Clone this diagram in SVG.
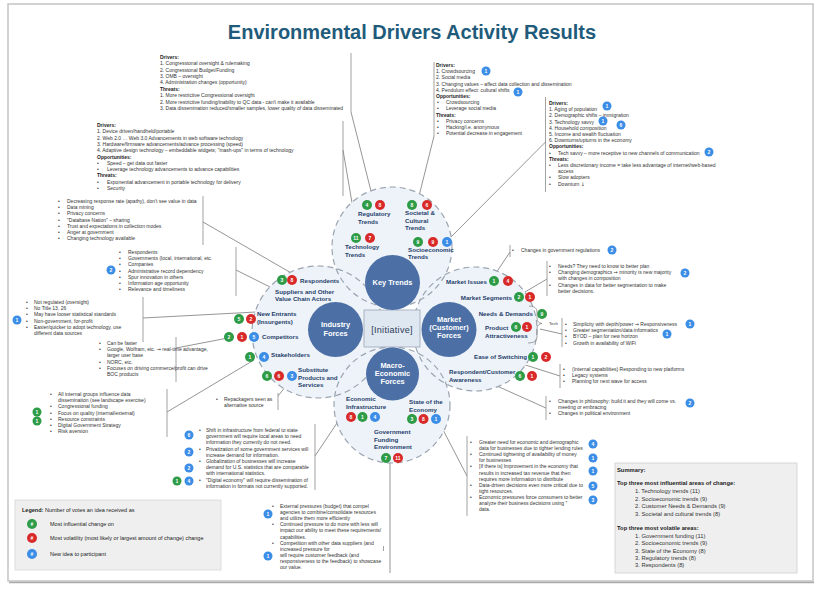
<svg xmlns="http://www.w3.org/2000/svg" width="824" height="598" viewBox="0 0 824 598">
<style>
text{font-family:"Liberation Sans","DejaVu Sans",Arial,sans-serif}
.ar{font-family:"DejaVu Sans",sans-serif}
.t{font-size:5px;fill:#333}
.h{font-size:5px;fill:#222;font-weight:bold}
.lb{font-size:6.2px;font-weight:bold;fill:#26416b}
.ct{font-size:7.4px;font-weight:bold;fill:#fff;text-anchor:middle}
.bn{font-size:5px;font-weight:bold;fill:#fff;text-anchor:middle}
.g{fill:#2e9b46}.r{fill:#d92a2a}.b{fill:#3b8de6}
.df{fill:#eef3f9;stroke:none}
.ds{fill:none;stroke:#9aa4b0;stroke-width:1.2;stroke-dasharray:6 4}
.fc{fill:#4c70a6}
.ln{stroke:#7a7a7a;stroke-width:0.8;fill:none}
.bar{stroke:#8a8a8a;stroke-width:0.8;fill:none}
.sm{font-size:5.8px;fill:#333}
.smb{font-size:5.8px;fill:#222;font-weight:bold}
.lg{font-size:5.5px;fill:#222}
</style>
<rect x="0" y="0" width="824" height="598" fill="#fff"/>
<rect x="8" y="4" width="805" height="577" fill="#fff" stroke="#c4c4c4" stroke-width="1.5"/>
<line x1="9" y1="582.5" x2="814" y2="582.5" stroke="#aaa" stroke-width="1.5"/>
<text x="412" y="39" text-anchor="middle" style="font-size:20px;font-weight:bold;fill:#1f5b7a">Environmental Drivers Activity Results</text>

<g id="connectors">
<line class="ln" x1="351" y1="112" x2="373" y2="199"/>
<line class="ln" x1="343" y1="150" x2="357" y2="232"/>
<line class="ln" x1="434" y1="136" x2="418" y2="200"/>
<line class="ln" x1="545.5" y1="142" x2="451" y2="237"/>
<line class="ln" x1="203" y1="222" x2="293" y2="274"/>
<line class="ln" x1="236" y1="270" x2="272" y2="288"/>
<line class="ln" x1="143" y1="318" x2="256" y2="312"/>
<line class="ln" x1="176" y1="348" x2="228" y2="338"/>
<line class="ln" x1="167" y1="412" x2="254" y2="360"/>
<line class="ln" x1="278" y1="396" x2="290" y2="381"/>
<line class="ln" x1="315" y1="456" x2="345" y2="411"/>
<line class="ln" x1="390" y1="463" x2="390" y2="573"/>
<line class="ln" x1="440" y1="424" x2="467" y2="476"/>
<line class="ln" x1="510" y1="252" x2="494" y2="276"/>
<line class="ln" x1="547" y1="279" x2="525" y2="292"/>
<line class="ln" x1="540" y1="329" x2="562" y2="334"/>
<line class="ln" x1="516" y1="362" x2="560" y2="376"/>
<line class="ln" x1="488" y1="382" x2="546" y2="408"/>
</g>

<g id="forces">
<circle class="df" cx="392" cy="247" r="60"/>
<circle class="df" cx="318" cy="332" r="66"/>
<circle class="df" cx="475" cy="329" r="62"/>
<circle class="df" cx="392" cy="405" r="58"/>
<circle class="ds" cx="392" cy="247" r="60"/>
<circle class="ds" cx="318" cy="332" r="66"/>
<circle class="ds" cx="475" cy="329" r="62"/>
<circle class="ds" cx="392" cy="405" r="58"/>
</g>

<g id="initiative">
<rect x="364" y="310" width="56" height="37" fill="#dfe7f1" stroke="#9aa6b4" stroke-width="0.8"/>
<text x="392" y="333" text-anchor="middle" style="font-size:9px;fill:#2b3b55;letter-spacing:0.3px">[Initiative]</text>
</g>

<g id="key-trends">
<circle class="fc" cx="392.5" cy="282.5" r="27.5"/>
<text class="ct" x="392.5" y="285">Key Trends</text>
<circle class="g" cx="367" cy="205" r="5"/><text class="bn" x="367" y="206.9">4</text>
<circle class="r" cx="380" cy="205" r="5"/><text class="bn" x="380" y="206.9">8</text>
<text class="lb" x="358" y="216">Regulatory</text><text class="lb" x="358" y="224">Trends</text>
<circle class="g" cx="412" cy="205" r="5"/><text class="bn" x="412" y="206.9">8</text>
<circle class="r" cx="427" cy="205" r="5"/><text class="bn" x="427" y="206.9">6</text>
<text class="lb" x="405" y="215">Societal &amp;</text><text class="lb" x="405" y="222.5">Cultural</text><text class="lb" x="405" y="230">Trends</text>
<circle class="g" cx="356" cy="238" r="5"/><text class="bn" x="356" y="239.9">11</text>
<circle class="r" cx="370" cy="238" r="5"/><text class="bn" x="370" y="239.9">7</text>
<text class="lb" x="345" y="249">Technology</text><text class="lb" x="345" y="256.5">Trends</text>
<circle class="g" cx="418" cy="242" r="5"/><text class="bn" x="418" y="243.9">9</text>
<circle class="r" cx="433" cy="242" r="5"/><text class="bn" x="433" y="243.9">9</text>
<circle class="b" cx="447" cy="242" r="5"/><text class="bn" x="447" y="243.9">1</text>
<text class="lb" x="408" y="251.5">Socioeconomic</text><text class="lb" x="408" y="259">Trends</text>
</g>

<g id="industry-forces">
<circle class="fc" cx="335.5" cy="329.5" r="27.5"/>
<text class="ct" x="335.5" y="326.5">Industry</text><text class="ct" x="335.5" y="335.5">Forces</text>
<circle class="g" cx="282" cy="280" r="5"/><text class="bn" x="282" y="281.9">3</text>
<circle class="r" cx="292" cy="280" r="5"/><text class="bn" x="292" y="281.9">8</text>
<text class="lb" x="300" y="282.5">Respondents</text>
<text class="lb" x="275" y="293.5">Suppliers and Other</text><text class="lb" x="275" y="301">Value Chain Actors</text>
<circle class="g" cx="239" cy="319" r="5"/><text class="bn" x="239" y="320.9">5</text>
<circle class="r" cx="251" cy="319" r="5"/><text class="bn" x="251" y="320.9">2</text>
<text class="lb" x="257" y="316">New Entrants</text><text class="lb" x="257" y="323.5">(Insurgents)</text>
<circle class="g" cx="229" cy="337" r="5"/><text class="bn" x="229" y="338.9">2</text>
<circle class="r" cx="242" cy="337" r="5"/><text class="bn" x="242" y="338.9">1</text>
<circle class="b" cx="254" cy="337" r="5"/><text class="bn" x="254" y="338.9">5</text>
<text class="lb" x="262" y="339">Competitors</text>
<circle class="g" cx="250" cy="357" r="5"/><text class="bn" x="250" y="358.9">1</text>
<circle class="b" cx="264" cy="357" r="5"/><text class="bn" x="264" y="358.9">4</text>
<text class="lb" x="271" y="356.5">Stakeholders</text>
<circle class="g" cx="267" cy="376" r="5"/><text class="bn" x="267" y="377.9">6</text>
<circle class="r" cx="279" cy="376" r="5"/><text class="bn" x="279" y="377.9">6</text>
<circle class="b" cx="292" cy="376" r="5"/><text class="bn" x="292" y="377.9">3</text>
<text class="lb" x="298" y="372">Substitute</text><text class="lb" x="298" y="379.5">Products and</text><text class="lb" x="298" y="387">Services</text>
</g>

<g id="market-forces">
<circle class="fc" cx="449" cy="329.5" r="27.5"/>
<text class="ct" x="449" y="321.5">Market</text><text class="ct" x="449" y="329.8">(Customer)</text><text class="ct" x="449" y="338.2">Forces</text>
<text class="lb" x="487" y="283.5" text-anchor="end">Market Issues</text>
<circle class="g" cx="494" cy="281" r="5"/><text class="bn" x="494" y="282.9">1</text>
<circle class="r" cx="508" cy="281" r="5"/><text class="bn" x="508" y="282.9">4</text>
<text class="lb" x="512" y="300" text-anchor="end">Market Segments</text>
<circle class="g" cx="519" cy="297" r="5"/><text class="bn" x="519" y="298.9">2</text>
<circle class="r" cx="530" cy="297" r="5"/><text class="bn" x="530" y="298.9">1</text>
<text class="lb" x="533" y="316" text-anchor="end">Needs &amp; Demands</text>
<circle class="g" cx="542" cy="314" r="5"/><text class="bn" x="542" y="315.9">9</text>
<text class="lb" x="485" y="330">Product</text><text class="lb" x="485" y="338">Attractiveness</text>
<circle class="g" cx="516" cy="327" r="5"/><text class="bn" x="516" y="328.9">6</text>
<circle class="r" cx="527" cy="327" r="5"/><text class="bn" x="527" y="328.9">1</text>
<path class="bar" d="M529,306 Q537,306 537,312 L537,318 Q537,323 542,323.5 Q537,324 537,329 L537,337 Q537,343 528,343"/>
<text x="549" y="324.5" style="font-size:4.2px;fill:#333">Tech</text>
<text class="lb" x="527" y="358.5" text-anchor="end">Ease of Switching</text>
<circle class="g" cx="533" cy="357" r="5"/><text class="bn" x="533" y="358.9">1</text>
<circle class="r" cx="546" cy="357" r="5"/><text class="bn" x="546" y="358.9">2</text>
<text class="lb" x="449" y="374">Respondent/Customer</text><text class="lb" x="449" y="381.5">Awareness</text>
<circle class="g" cx="520" cy="376" r="5"/><text class="bn" x="520" y="377.9">6</text>
<circle class="r" cx="532" cy="376" r="5"/><text class="bn" x="532" y="377.9">1</text>
</g>

<g id="macro-forces">
<circle class="fc" cx="392.5" cy="374" r="26.5"/>
<text class="ct" x="392.5" y="367.5">Macro-</text><text class="ct" x="392.5" y="375.7">Economic</text><text class="ct" x="392.5" y="384">Forces</text>
<text class="lb" x="346" y="401">Economic</text><text class="lb" x="346" y="408.5">Infrastructure</text>
<circle class="r" cx="351" cy="417" r="5"/><text class="bn" x="351" y="418.9">8</text>
<circle class="g" cx="362.5" cy="417" r="5"/><text class="bn" x="362.5" y="418.9">1</text>
<circle class="b" cx="375" cy="417" r="5"/><text class="bn" x="375" y="418.9">4</text>
<text class="lb" x="409" y="404">State of the</text><text class="lb" x="409" y="411.5">Economy</text>
<circle class="g" cx="412" cy="419" r="5"/><text class="bn" x="412" y="420.9">3</text>
<circle class="r" cx="423.5" cy="419" r="5"/><text class="bn" x="423.5" y="420.9">8</text>
<circle class="b" cx="436" cy="419" r="5"/><text class="bn" x="436" y="420.9">1</text>
<text class="lb" x="374" y="434">Government</text><text class="lb" x="374" y="441.5">Funding</text><text class="lb" x="374" y="449">Environment</text>
<circle class="g" cx="386" cy="458" r="5"/><text class="bn" x="386" y="459.9">7</text>
<circle class="r" cx="398" cy="458" r="5"/><text class="bn" x="398" y="459.9">11</text>
</g>

<g id="regulatory-notes">
<line class="bar" x1="351" y1="53" x2="351" y2="112"/>
<text class="h" x="160" y="59">Drivers:</text>
<text class="t" x="160" y="65.4">1. Congressional oversight &amp; rulemaking</text>
<text class="t" x="160" y="71.7">2. Congressional Budget/Funding</text>
<text class="t" x="160" y="78">3. OMB – oversight</text>
<text class="t" x="160" y="84.4">4. Administration changes (opportunity)</text>
<text class="h" x="160" y="90.8">Threats:</text>
<text class="t" x="160" y="97.1">1. More restrictive Congressional oversight</text>
<text class="t" x="160" y="103.5">2. More restrictive funding/inability to QC data - can't make it available</text>
<text class="t" x="160" y="109.8">3. Data dissemination reduced/smaller samples, lower quality of data disseminated</text>
</g>

<g id="technology-notes">
<line class="bar" x1="343" y1="121" x2="343" y2="196"/>
<text class="h" x="97" y="127">Drivers:</text>
<text class="t" x="97" y="133.3">1. Device driven/handheld/portable</text>
<text class="t" x="97" y="139.6">2. Web 2.0 … Web 3.0 Advancements in web software technology</text>
<text class="t" x="97" y="145.9">3. Hardware/firmware advancements/advance processing (speed)</text>
<text class="t" x="97" y="152.2">4. Adaptive design technology – embeddable widgets; "mash-ups" in terms of technology</text>
<text class="h" x="97" y="158.5">Opportunities:</text>
<text class="t" x="97" y="164.8">•</text><text class="t" x="107" y="164.8">Speed – get data out faster</text>
<text class="t" x="97" y="171.1">•</text><text class="t" x="107" y="171.1">Leverage technology advancements to advance capabilities</text>
<text class="h" x="97" y="177.4">Threats:</text>
<text class="t" x="97" y="183.7">•</text><text class="t" x="107" y="183.7">Exponential advancement in portable technology for delivery</text>
<text class="t" x="97" y="190">•</text><text class="t" x="107" y="190">Security</text>
</g>

<g id="societal-notes">
<line class="bar" x1="434" y1="62" x2="434" y2="136"/>
<text class="h" x="436" y="67">Drivers:</text>
<text class="t" x="436" y="73.2">1. Crowdsourcing</text>
<text class="t" x="436" y="79.4">2. Social media</text>
<text class="t" x="436" y="85.6">3. Changing values – affect data collection and dissemination</text>
<text class="t" x="436" y="91.8">4. Pendulum effect: cultural shifts</text>
<text class="h" x="436" y="98">Opportunities:</text>
<text class="t" x="437" y="104.2">•</text><text class="t" x="446" y="104.2">Crowdsourcing</text>
<text class="t" x="437" y="110.4">•</text><text class="t" x="446" y="110.4">Leverage social media</text>
<text class="h" x="436" y="116.6">Threats:</text>
<text class="t" x="437" y="122.8">•</text><text class="t" x="446" y="122.8">Privacy concerns</text>
<text class="t" x="437" y="129">•</text><text class="t" x="446" y="129">Hacking/i.e. anonymous</text>
<text class="t" x="437" y="135.2">•</text><text class="t" x="446" y="135.2">Potential decrease in engagement</text>
<circle class="b" cx="486" cy="71" r="4.5"/><text class="bn" x="486" y="72.8">1</text>
<circle class="b" cx="518" cy="92" r="4.5"/><text class="bn" x="518" y="93.8">1</text>
</g>

<g id="socioeconomic-notes">
<line class="bar" x1="545.5" y1="97" x2="545.5" y2="192"/>
<text class="h" x="549" y="105">Drivers:</text>
<text class="t" x="549" y="111.2">1. Aging of population</text>
<text class="t" x="549" y="117.4">2. Demographic shifts – immigration</text>
<text class="t" x="549" y="123.6">3. Technology savvy</text>
<text class="t" x="549" y="129.8">4. Household composition</text>
<text class="t" x="549" y="136">5. Income and wealth fluctuation</text>
<text class="t" x="549" y="142.2">6. Downturns/upturns in the economy</text>
<text class="h" x="549" y="148.4">Opportunities:</text>
<text class="t" x="549" y="154.6">•</text><text class="t" x="558" y="154.6">Tech savvy – more receptive to new channels of communication</text>
<text class="h" x="549" y="160.8">Threats:</text>
<text class="t" x="549" y="167">•</text><text class="t" x="558" y="167">Less discretionary income = take less advantage of internet/web-based</text>
<text class="t" x="558" y="173.2">access</text>
<text class="t" x="549" y="179.4">•</text><text class="t" x="558" y="179.4">Slow adopters</text>
<text class="t" x="549" y="185.6">•</text><text class="t" x="558" y="185.6">Downturn <tspan class="ar">↓</tspan></text>
<circle class="b" cx="607" cy="106" r="4.5"/><text class="bn" x="607" y="107.8">1</text>
<circle class="b" cx="603" cy="121" r="4.5"/><text class="bn" x="603" y="122.8">1</text>
<circle class="b" cx="621" cy="125" r="4.5"/><text class="bn" x="621" y="126.8">6</text>
<circle class="b" cx="709" cy="152" r="4.5"/><text class="bn" x="709" y="153.8">2</text>
</g>

<g id="respondents-notes">
<line class="bar" x1="203" y1="196" x2="203" y2="245"/>
<text class="t" x="58" y="203">•</text><text class="t" x="67" y="203">Decreasing response rate (apathy), don't see value in data</text>
<text class="t" x="58" y="209.2">•</text><text class="t" x="67" y="209.2">Data mining</text>
<text class="t" x="58" y="215.4">•</text><text class="t" x="67" y="215.4">Privacy concerns</text>
<text class="t" x="58" y="221.6">•</text><text class="t" x="67" y="221.6">"Database Nation" – sharing</text>
<text class="t" x="58" y="227.8">•</text><text class="t" x="67" y="227.8">Trust and expectations in collection modes</text>
<text class="t" x="58" y="234">•</text><text class="t" x="67" y="234">Anger at government</text>
<text class="t" x="58" y="240.2">•</text><text class="t" x="67" y="240.2">Changing technology available</text>
</g>

<g id="suppliers-notes">
<line class="bar" x1="236" y1="247" x2="236" y2="296"/>
<text class="t" x="119" y="254">•</text><text class="t" x="128" y="254">Respondents</text>
<text class="t" x="119" y="260.2">•</text><text class="t" x="128" y="260.2">Governments (local, international, etc.</text>
<text class="t" x="119" y="266.4">•</text><text class="t" x="128" y="266.4">Companies</text>
<text class="t" x="119" y="272.6">•</text><text class="t" x="128" y="272.6">Administrative record dependency</text>
<text class="t" x="119" y="278.8">•</text><text class="t" x="128" y="278.8">Spur innovation in others</text>
<text class="t" x="119" y="285">•</text><text class="t" x="128" y="285">Information age opportunity</text>
<text class="t" x="119" y="291.2">•</text><text class="t" x="128" y="291.2">Relevance and timeliness</text>
<circle class="b" cx="111" cy="270" r="4.5"/><text class="bn" x="111" y="271.8">2</text>
</g>

<g id="new-entrants-notes">
<line class="bar" x1="143" y1="297" x2="143" y2="342"/>
<text class="t" x="26" y="304">•</text><text class="t" x="34" y="304">Not regulated (oversight)</text>
<text class="t" x="26" y="310.2">•</text><text class="t" x="34" y="310.2">No Title 13, 26</text>
<text class="t" x="26" y="316.4">•</text><text class="t" x="34" y="316.4">May have looser statistical standards</text>
<text class="t" x="26" y="322.6">•</text><text class="t" x="34" y="322.6">Non-government, for-profit</text>
<text class="t" x="26" y="328.8">•</text><text class="t" x="34" y="328.8">Easier/quicker to adopt technology, use</text>
<text class="t" x="34" y="335">different data sources</text>
<circle class="b" cx="17" cy="320" r="4.5"/><text class="bn" x="17" y="321.8">1</text>
</g>

<g id="competitors-notes">
<line class="bar" x1="176" y1="337" x2="176" y2="382"/>
<text class="t" x="99" y="345">•</text><text class="t" x="107" y="345">Can be faster</text>
<text class="t" x="99" y="351.2">•</text><text class="t" x="107" y="351.2">Google, Wolfram, etc. <tspan class="ar">→</tspan> real-time advantage,</text>
<text class="t" x="107" y="357.4">larger user base</text>
<text class="t" x="99" y="363.6">•</text><text class="t" x="107" y="363.6">NORC, etc.</text>
<text class="t" x="99" y="369.8">•</text><text class="t" x="107" y="369.8">Focuses on driving commerce/profit can drive</text>
<text class="t" x="107" y="376">BOC products</text>
</g>

<g id="stakeholders-notes">
<line class="bar" x1="167" y1="389" x2="167" y2="437"/>
<text class="t" x="50" y="396">•</text><text class="t" x="58" y="396">All internal groups influence data</text>
<text class="t" x="58" y="402.2">dissemination (see landscape exercise)</text>
<text class="t" x="50" y="408.4">•</text><text class="t" x="58" y="408.4">Congressional funding</text>
<text class="t" x="50" y="414.6">•</text><text class="t" x="58" y="414.6">Focus on quality (internal/external)</text>
<text class="t" x="50" y="420.8">•</text><text class="t" x="58" y="420.8">Resource constraints</text>
<text class="t" x="50" y="427">•</text><text class="t" x="58" y="427">Digital Government Strategy</text>
<text class="t" x="50" y="433.2">•</text><text class="t" x="58" y="433.2">Risk aversion</text>
<circle class="g" cx="37" cy="412" r="4.5"/><text class="bn" x="37" y="413.8">1</text>
<circle class="g" cx="37" cy="421" r="4.5"/><text class="bn" x="37" y="422.8">1</text>
</g>

<g id="substitute-notes">
<line class="bar" x1="278" y1="393" x2="278" y2="410"/>
<text class="t" x="216" y="401">•</text><text class="t" x="224" y="401">Repackagers seen as</text>
<text class="t" x="224" y="407.2">alternative source</text>
</g>

<g id="infrastructure-notes">
<line class="bar" x1="315" y1="424" x2="315" y2="490"/>
<text class="t" x="199" y="432">•</text><text class="t" x="206" y="432">Shift in infrastructure from federal to state</text>
<text class="t" x="206" y="438.2">government will require local areas to need</text>
<text class="t" x="206" y="444.4">information they currently do not need.</text>
<text class="t" x="199" y="450.6">•</text><text class="t" x="206" y="450.6">Privatization of some government services will</text>
<text class="t" x="206" y="456.8">increase demand for information.</text>
<text class="t" x="199" y="463">•</text><text class="t" x="206" y="463">Globalization of businesses will increase</text>
<text class="t" x="206" y="469.2">demand for U.S. statistics that are comparable</text>
<text class="t" x="206" y="475.4">with international statistics.</text>
<text class="t" x="199" y="481.6">•</text><text class="t" x="206" y="481.6">"Digital economy" will require dissemination of</text>
<text class="t" x="206" y="487.8">information in formats not currently supported.</text>
<circle class="b" cx="189" cy="435" r="4.5"/><text class="bn" x="189" y="436.8">6</text>
<circle class="b" cx="189" cy="452" r="4.5"/><text class="bn" x="189" y="453.8">2</text>
<circle class="b" cx="189" cy="468" r="4.5"/><text class="bn" x="189" y="469.8">2</text>
<circle class="g" cx="177" cy="481" r="4.5"/><text class="bn" x="177" y="482.8">1</text>
<circle class="b" cx="189" cy="481" r="4.5"/><text class="bn" x="189" y="482.8">4</text>
</g>

<g id="funding-notes">
<text class="t" x="272" y="508">•</text><text class="t" x="280" y="508">External pressures (budget) that compel</text>
<text class="t" x="280" y="514.1">agencies to combine/consolidate resources</text>
<text class="t" x="280" y="520.2">and utilize them more efficiently</text>
<text class="t" x="272" y="526.3">•</text><text class="t" x="280" y="526.3">Continued pressure to do more with less will</text>
<text class="t" x="280" y="532.4">impact our ability to meet these requirements/</text>
<text class="t" x="280" y="538.5">capabilities.</text>
<text class="t" x="272" y="544.6">•</text><text class="t" x="280" y="544.6">Competition with other data suppliers (and</text>
<text class="t" x="280" y="550.7">increased pressure for</text>
<line class="bar" x1="383.5" y1="546" x2="383.5" y2="551"/>
<text class="t" x="280" y="556.8">will require customer feedback (and</text>
<text class="t" x="280" y="562.9">responsiveness to the feedback) to showcase</text>
<text class="t" x="280" y="569">our value.</text>
<circle class="b" cx="268" cy="514" r="4.5"/><text class="bn" x="268" y="515.8">1</text>
<circle class="b" cx="268" cy="556" r="4.5"/><text class="bn" x="268" y="557.8">1</text>
</g>

<g id="economy-notes">
<line class="bar" x1="467" y1="436" x2="467" y2="516"/>
<text class="t" x="470" y="444">•</text><text class="t" x="479" y="444">Greater need for economic and demographic</text>
<text class="t" x="479" y="450.1">data for businesses due to tighter lending rules</text>
<text class="t" x="470" y="456.2">•</text><text class="t" x="479" y="456.2">Continued tightening of availability of money</text>
<text class="t" x="479" y="462.3">for businesses</text>
<text class="t" x="470" y="468.4">•</text><text class="t" x="479" y="468.4">[If there is] Improvement in the economy that</text>
<text class="t" x="479" y="474.5">results in increased tax revenue that then</text>
<text class="t" x="479" y="480.6">requires more information to distribute</text>
<text class="t" x="470" y="486.7">•</text><text class="t" x="479" y="486.7">Data-driven decisions even more critical due to</text>
<text class="t" x="479" y="492.8">tight resources.</text>
<text class="t" x="470" y="498.9">•</text><text class="t" x="479" y="498.9">Economic pressures force consumers to better</text>
<text class="t" x="479" y="505">analyze their business decisions using ”</text>
<text class="t" x="479" y="511.1">data.</text>
<circle class="b" cx="593" cy="444" r="4.5"/><text class="bn" x="593" y="445.8">4</text>
<circle class="b" cx="593" cy="458" r="4.5"/><text class="bn" x="593" y="459.8">1</text>
<circle class="b" cx="593" cy="471" r="4.5"/><text class="bn" x="593" y="472.8">1</text>
<circle class="b" cx="593" cy="486" r="4.5"/><text class="bn" x="593" y="487.8">5</text>
<circle class="b" cx="593" cy="500" r="4.5"/><text class="bn" x="593" y="501.8">3</text>
</g>

<g id="market-issues-notes">
<line class="bar" x1="510" y1="245" x2="510" y2="257"/>
<text class="t" x="512" y="252">•</text><text class="t" x="521" y="252">Changes in government regulations</text>
<circle class="b" cx="612" cy="250" r="4.5"/><text class="bn" x="612" y="251.8">2</text>
</g>

<g id="segments-notes">
<line class="bar" x1="547" y1="261" x2="547" y2="296"/>
<text class="t" x="549" y="268">•</text><text class="t" x="558" y="268">Needs?  They need to know to better plan</text>
<text class="t" x="549" y="274.2">•</text><text class="t" x="558" y="274.2">Changing demographics <tspan class="ar">→</tspan> minority is new majority</text>
<text class="t" x="558" y="280.4">with changes in composition</text>
<text class="t" x="549" y="286.6">•</text><text class="t" x="558" y="286.6">Changes in data for better segmentation to make</text>
<text class="t" x="558" y="292.8">better decisions.</text>
<circle class="b" cx="685" cy="273" r="4.5"/><text class="bn" x="685" y="274.8">2</text>
</g>

<g id="tech-notes">
<line class="bar" x1="562" y1="318" x2="562" y2="347"/>
<text class="t" x="565" y="326">•</text><text class="t" x="573" y="326">Simplicity with depth/power <tspan class="ar">→</tspan> Responsiveness</text>
<text class="t" x="565" y="332.2">•</text><text class="t" x="573" y="332.2">Greater segmentation/data informatics</text>
<text class="t" x="565" y="338.4">•</text><text class="t" x="573" y="338.4">BYOD – plan for new horizon</text>
<text class="t" x="565" y="344.6">•</text><text class="t" x="573" y="344.6">Growth in availability of WiFi</text>
<circle class="b" cx="690" cy="324" r="4.5"/><text class="bn" x="690" y="325.8">1</text>
<circle class="b" cx="667" cy="334" r="4.5"/><text class="bn" x="667" y="335.8">1</text>
</g>

<g id="switching-notes">
<line class="bar" x1="560" y1="364" x2="560" y2="388"/>
<text class="t" x="563" y="371">•</text><text class="t" x="572" y="371">(Internal capabilities) Responding to new platforms</text>
<text class="t" x="563" y="377.2">•</text><text class="t" x="572" y="377.2">Legacy systems</text>
<text class="t" x="563" y="383.4">•</text><text class="t" x="572" y="383.4">Planning for next wave for access</text>
</g>

<g id="awareness-notes">
<line class="bar" x1="546" y1="396" x2="546" y2="420"/>
<text class="t" x="549" y="403">•</text><text class="t" x="558" y="403">Changes in philosophy: build it and they will come vs.</text>
<text class="t" x="558" y="409.2">meeting or embracing</text>
<text class="t" x="549" y="415.4">•</text><text class="t" x="558" y="415.4">Changes in political environment</text>
<circle class="b" cx="690" cy="403" r="4.5"/><text class="bn" x="690" y="404.8">2</text>
</g>

<g id="legend">
<rect x="15" y="500" width="206" height="70" fill="#efefef" stroke="#d6d6d6" stroke-width="0.8"/>
<text class="lg" x="22" y="512"><tspan font-weight="bold">Legend:</tspan>  Number of votes an idea received as</text>
<circle class="g" cx="32" cy="524" r="5"/><text class="bn" x="32" y="525.9">#</text>
<text class="lg" x="50" y="526">Most influential change on</text>
<circle class="r" cx="32" cy="538" r="5"/><text class="bn" x="32" y="539.9">#</text>
<text class="lg" x="50" y="540">Most volatility (most likely or largest amount of change) change</text>
<circle class="b" cx="32" cy="554" r="5"/><text class="bn" x="32" y="555.9">#</text>
<text class="lg" x="50" y="556">New idea to participant</text>
</g>

<g id="summary">
<rect x="615" y="463" width="182" height="110" fill="#efefef" stroke="#d0d0d0" stroke-width="0.8"/>
<text class="smb" x="617" y="472">Summary:</text>
<text class="smb" x="617" y="485">Top three most influential areas of change:</text>
<text class="sm" x="635" y="493">1. Technology trends (11)</text>
<text class="sm" x="635" y="500.5">2. Socioeconomic trends (9)</text>
<text class="sm" x="635" y="508">2. Customer Needs &amp; Demands (9)</text>
<text class="sm" x="635" y="515.5">3. Societal and cultural trends (8)</text>
<text class="smb" x="617" y="530">Top three most volatile areas:</text>
<text class="sm" x="635" y="538">1. Government funding (11)</text>
<text class="sm" x="635" y="545.3">2. Socioeconomic trends (9)</text>
<text class="sm" x="635" y="552.6">3. State of the Economy (8)</text>
<text class="sm" x="635" y="559.9">3. Regulatory trends (8)</text>
<text class="sm" x="635" y="567.2">3. Respondents (8)</text>
</g>
</svg>
